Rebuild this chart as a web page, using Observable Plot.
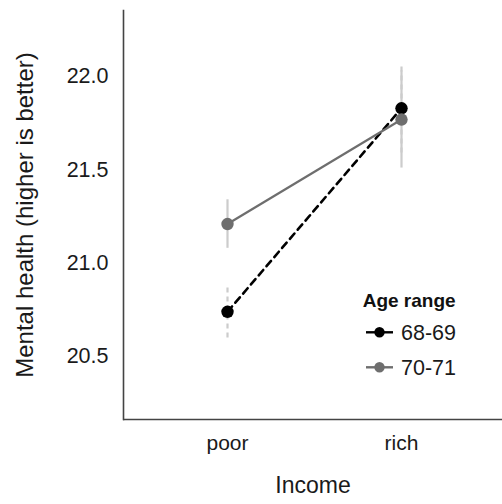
<!DOCTYPE html>
<html>
<head>
<meta charset="utf-8">
<script src="https://cdn.jsdelivr.net/npm/d3@7"></script>
<script src="https://cdn.jsdelivr.net/npm/@observablehq/plot@0.6"></script>
<style>
  html, body { margin: 0; padding: 0; background: #fff; }
  #wrap { position: relative; width: 502px; height: 504px; font-family: "Liberation Sans", Arial, Helvetica, sans-serif; }
  #legend { position: absolute; left: 0; top: 0; pointer-events: none; }
</style>
</head>
<body>
<div id="wrap"></div>
<script>
// ---- data ----
const incomes = ["poor", "rich"];
const ageRanges = ["68-69", "70-71"];
const mean6869 = [20.74, 21.83];
const lower6869 = [20.60, 21.59];
const upper6869 = [20.88, 22.06];
const mean7071 = [21.21, 21.77];
const lower7071 = [21.08, 21.51];
const upper7071 = [21.34, 22.03];
const yTicks = [20.5, 21.0, 21.5, 22.0];
const yDomain = [20.163, 22.354];
const xTitle = "Income";
const yTitle = "Mental health (higher is better)";
const legendTitle = "Age range";

// ---- styles ----
const colors = {"68-69": "#000000", "70-71": "#6e6e6e"};
const dashes = {"68-69": "7,5", "70-71": null};
const errColor = "#cccccc";

const series = {
  "68-69": {mean: mean6869, lo: lower6869, hi: upper6869},
  "70-71": {mean: mean7071, lo: lower7071, hi: upper7071}
};
const data = ageRanges.flatMap(age => incomes.map((inc, j) => ({
  age, income: inc, mean: series[age].mean[j], lo: series[age].lo[j], hi: series[age].hi[j]
})));
const byAge = age => data.filter(d => d.age === age);

const marks = [];
for (const age of ageRanges) {
  marks.push(Plot.ruleX(byAge(age), {x: "income", y1: "lo", y2: "hi", stroke: errColor, strokeWidth: 2.2,
    strokeDasharray: age === "68-69" ? "5,4" : null}));
}
for (const age of ageRanges) {
  marks.push(Plot.line(byAge(age), {x: "income", y: "mean", stroke: colors[age],
    strokeWidth: age === "68-69" ? 2.6 : 2.2, strokeDasharray: dashes[age]}));
}
for (const age of ageRanges) {
  marks.push(Plot.dot(byAge(age), {x: "income", y: "mean", r: 6.2, fill: colors[age], stroke: "none"}));
}

const chart = Plot.plot({
  width: 502,
  height: 504,
  marginLeft: 123,
  marginRight: 0,
  marginTop: 10,
  marginBottom: 85,
  style: {fontFamily: '"Liberation Sans", Arial, sans-serif', fontSize: "21px", color: "#1a1a1a", background: "#fff"},
  x: {type: "point", domain: incomes, range: [227, 401], padding: 0},
  y: {domain: yDomain},
  marks: [
    ...marks,
    Plot.axisY({ticks: yTicks, tickSize: 0, tickPadding: 15, tickFormat: d3.format(".1f"), label: null, fontSize: 21.5}),
    Plot.axisX({tickSize: 0, tickPadding: 16, label: null, fontSize: 21}),
    Plot.ruleY([yDomain[0]], {stroke: "#444", strokeWidth: 1.6}),
    Plot.frame({anchor: "left", stroke: "#444", strokeWidth: 1.6}),
    Plot.text([yTitle], {frameAnchor: "left", textAnchor: "middle", lineAnchor: "middle", rotate: -90, dx: -97.7, fontSize: 24, fill: "#1a1a1a"}),
    Plot.text([xTitle], {frameAnchor: "bottom", dy: 73.6, fontSize: 23, fill: "#1a1a1a"})
  ]
});
document.getElementById("wrap").appendChild(chart);

// ---- legend (overlay) ----
const ns = "http://www.w3.org/2000/svg";
const lg = document.createElementNS(ns, "svg");
lg.setAttribute("id", "legend");
lg.setAttribute("width", 502);
lg.setAttribute("height", 504);
const t = document.createElementNS(ns, "text");
t.setAttribute("x", 362.7); t.setAttribute("y", 306.7);
t.setAttribute("font-size", 19); t.setAttribute("font-weight", "bold");
t.setAttribute("font-family", '"Liberation Sans", Arial, sans-serif');
t.setAttribute("fill", "#111");
t.textContent = legendTitle;
lg.appendChild(t);
ageRanges.forEach((age, i) => {
  const cy = 332.3 + i * 35;
  const l = document.createElementNS(ns, "line");
  l.setAttribute("x1", 366); l.setAttribute("x2", 393); l.setAttribute("y1", cy); l.setAttribute("y2", cy);
  l.setAttribute("stroke", colors[age]); l.setAttribute("stroke-width", 2.4);
  lg.appendChild(l);
  const c = document.createElementNS(ns, "circle");
  c.setAttribute("cx", 379.5); c.setAttribute("cy", cy); c.setAttribute("r", 5.2);
  c.setAttribute("fill", colors[age]);
  lg.appendChild(c);
  const tx = document.createElementNS(ns, "text");
  tx.setAttribute("x", 401); tx.setAttribute("y", cy + 7.3);
  tx.setAttribute("font-size", 21.5);
  tx.setAttribute("font-family", '"Liberation Sans", Arial, sans-serif');
  tx.setAttribute("fill", "#1a1a1a");
  tx.textContent = age;
  lg.appendChild(tx);
});
document.getElementById("wrap").appendChild(lg);
</script>
</body>
</html>
